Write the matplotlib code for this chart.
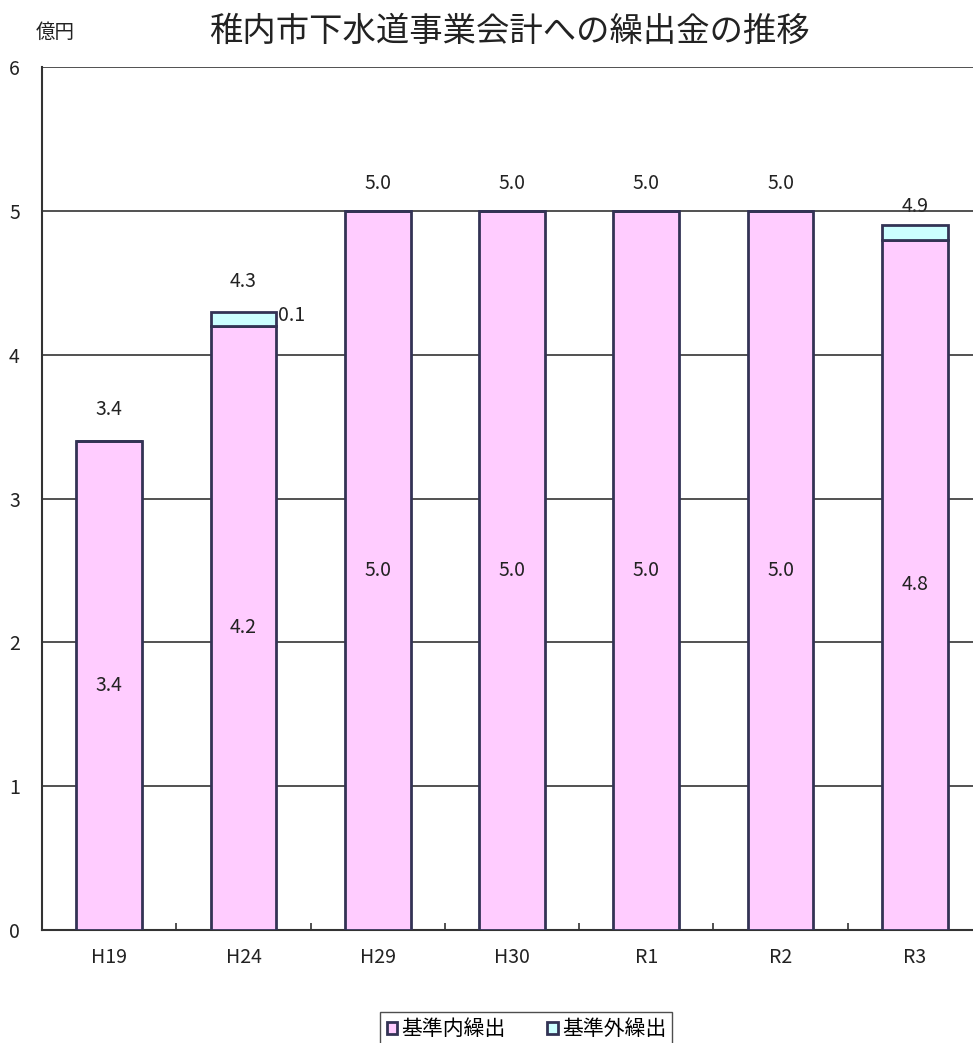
import numpy as np
import matplotlib.pyplot as plt

plt.rcParams['font.family'] = ['Noto Sans CJK JP', 'DejaVu Sans']

years = ['H19', 'H24', 'H29', 'H30', 'R1', 'R2', 'R3']
inner = [3.4, 4.2, 5.0, 5.0, 5.0, 5.0, 4.8]   # 基準内繰出
outer = [0.0, 0.1, 0.0, 0.0, 0.0, 0.0, 0.1]   # 基準外繰出
totals = [a + b for a, b in zip(inner, outer)]

pink = '#FFCCFF'
cyan = '#CCFFFF'
edge = '#333355'
txt = '#222222'

fig = plt.figure(figsize=(9.73, 10.43), dpi=100)
ax = fig.add_axes([0.0432, 0.1083, 0.966, 0.8275])

x = np.arange(len(years))
w = 0.49
ax.bar(x, inner, w, color=pink, edgecolor=edge, linewidth=2, label='基準内繰出', zorder=3)
ax.bar(x, outer, w, bottom=inner, color=cyan, edgecolor=edge, linewidth=2,
       label='基準外繰出', zorder=3)

# gap between bar top and total label
gap = [0.22, 0.21, 0.19, 0.19, 0.19, 0.19, 0.13]
for i in range(len(years)):
    ax.text(x[i], inner[i] / 2, f'{inner[i]:.1f}', ha='center', va='center',
            fontsize=14, color=txt, zorder=4)
    ax.text(x[i], totals[i] + gap[i], f'{totals[i]:.1f}', ha='center', va='center',
            fontsize=14, color=txt, zorder=1)
# only H24's 基準外 value is labelled
ax.text(x[1] + w / 2 + 0.01, totals[1] - 0.03, f'{outer[1]:.1f}', ha='left', va='center',
        fontsize=14, color=txt, zorder=4)

ax.set_xlim(-0.5, 6.5)
ax.set_ylim(0, 6)
ax.set_yticks(range(7))
ax.set_xticks(x)
ax.set_xticklabels(years, fontsize=14, color=txt)
ax.tick_params(axis='x', length=0, pad=12)
ax.tick_params(axis='y', length=0, pad=16, labelsize=14, labelcolor=txt)
ax.set_xticks(x[:-1] + 0.5, minor=True)
ax.tick_params(axis='x', which='minor', direction='in', length=5, width=1.2, color='#333333')
ax.yaxis.grid(True, color='#333333', linewidth=1.2, zorder=2)
for s in ['top', 'right']:
    ax.spines[s].set_visible(False)
ax.spines['left'].set_color('#333333')
ax.spines['bottom'].set_color('#333333')
ax.spines['left'].set_linewidth(1.5)
ax.spines['bottom'].set_linewidth(1.5)

fig.text(0.524, 0.970, '稚内市下水道事業会計への繰出金の推移', ha='center', va='center',
         fontsize=24, color=txt)
fig.text(0.057, 0.969, '億円', ha='center', va='center', fontsize=14, color=txt)

fig.legend(loc='upper center', bbox_to_anchor=(0.541, 0.0297), ncol=2, fontsize=15,
           frameon=True, fancybox=False, edgecolor='#222222', handlelength=0.5,
           handleheight=0.5, handletextpad=0.2, columnspacing=2.0, borderpad=0.3,
           borderaxespad=0)

fig.savefig('out.png', dpi=100)
